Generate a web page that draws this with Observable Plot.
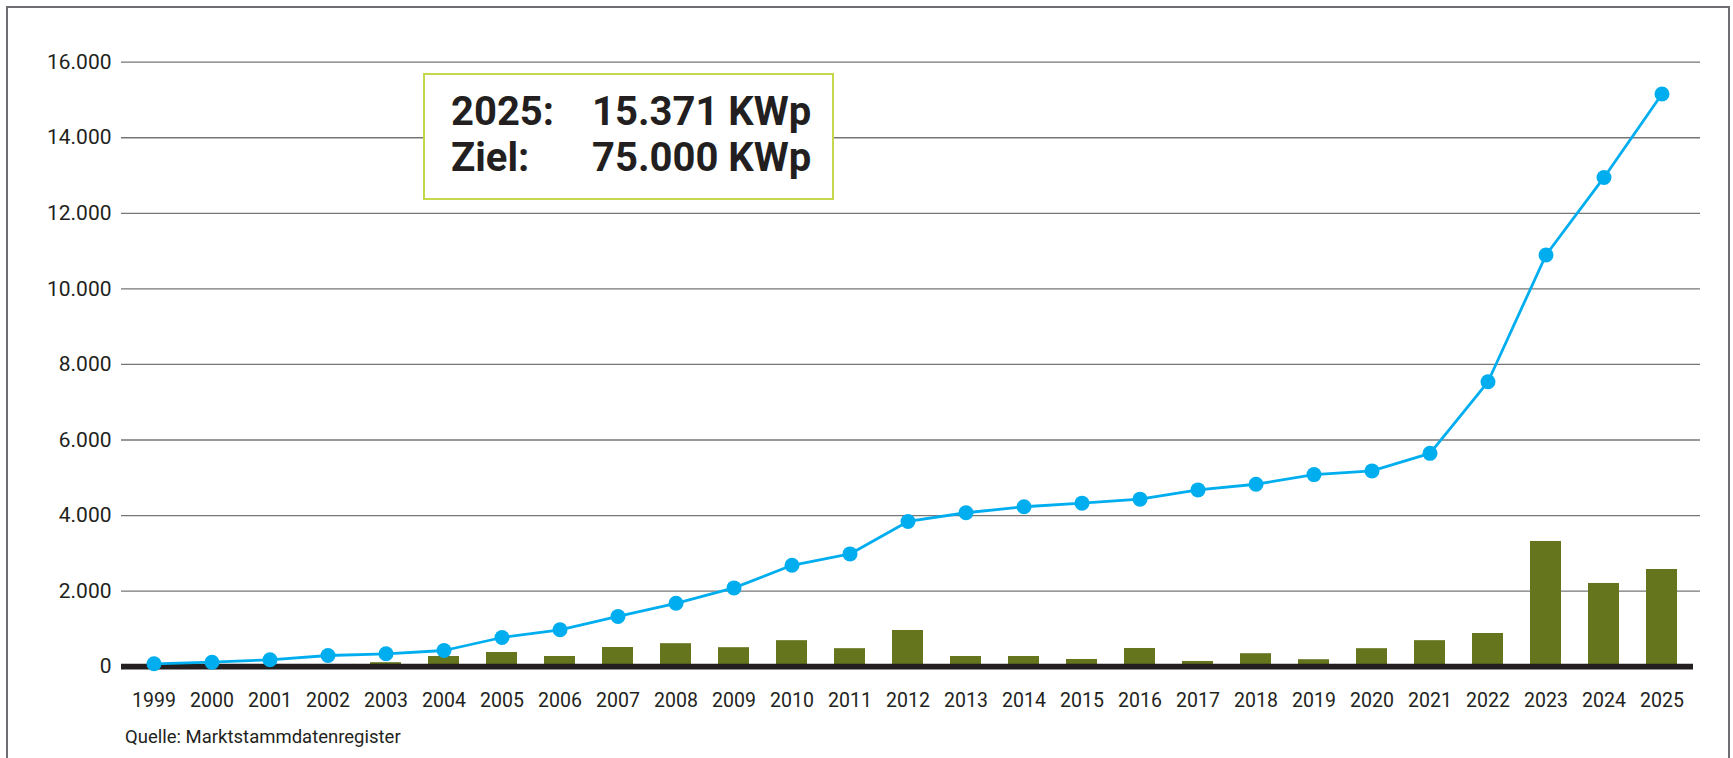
<!DOCTYPE html>
<html>
<head>
<meta charset="utf-8">
<script src="https://cdn.jsdelivr.net/npm/d3@7"></script>
<script src="https://cdn.jsdelivr.net/npm/@observablehq/plot@0.6"></script>
<style>
  html, body { margin: 0; padding: 0; background: #fff; overflow: hidden; }
  body { width: 1733px; height: 758px; position: relative; font-family: Roboto, "Noto Sans", sans-serif; color: #231f20; }
  #frame { position: absolute; left: 6px; top: 6px; width: 1720px; height: 800px; border: 2px solid #6d6e71; border-bottom: none; }
  #chart { position: absolute; left: 0; top: 0; }
  #chart svg { overflow: visible; }
  g[aria-label^="y-axis"] text { font-size: 21px; fill: #231f20; }
  g[aria-label^="x-axis"] text { font-size: 19.5px; fill: #231f20; }
  #box { position: absolute; left: 423px; top: 73px; width: 407px; height: 123px; border: 2px solid #c5d84b; background: #fff; }
  #boxtext { position: absolute; left: 451px; top: 89px; font-family: Roboto, sans-serif; font-weight: 700; font-size: 40px; line-height: 46px; color: #231f20; white-space: nowrap; }
  #boxtext .c1 { display: inline-block; width: 141px; }
  #caption { position: absolute; left: 125px; top: 728px; font-size: 18.5px; line-height: 18px; color: #231f20; }
</style>
</head>
<body>
<div id="frame"></div>
<div id="chart"></div>
<div id="box"></div>
<div id="boxtext"></div>
<div id="caption"></div>
<script>
// ---- data ----
const years = ["1999","2000","2001","2002","2003","2004","2005","2006","2007","2008","2009","2010","2011","2012","2013","2014","2015","2016","2017","2018","2019","2020","2021","2022","2023","2024","2025"];
// cumulative installed capacity (line with dots)
const cumulative = [77,119,183,297,342,429,773,977,1329,1678,2085,2684,2985,3844,4075,4233,4329,4435,4679,4829,5085,5182,5647,7541,10897,12950,15160];
// annual additions (bars)
const annual = [0,0,0,0,106,270,376,270,508,609,503,689,477,958,270,270,191,482,138,344,185,477,689,879,3315,2203,2573];
const yTicks = [0,2000,4000,6000,8000,10000,12000,14000,16000];
const yTickLabels = ["0","2.000","4.000","6.000","8.000","10.000","12.000","14.000","16.000"];
const boxLabels = ["2025:", "Ziel:"];
const boxValues = ["15.371 KWp", "75.000 KWp"];
const sourceText = "Quelle: Marktstammdatenregister";

const data = years.map((y, i) => ({year: y, total: cumulative[i], added: annual[i]}));

const chart = Plot.plot({
  width: 1733,
  height: 758,
  marginTop: 61.7,
  marginBottom: 91.8,
  marginLeft: 121,
  marginRight: 33,
  style: {fontFamily: "Roboto, 'Noto Sans', sans-serif", color: "#231f20", background: "transparent"},
  x: {type: "band", domain: years, range: [121.5, 1693.5], paddingInner: 0.47, paddingOuter: 0.235, align: 0.5,
      tickSize: 0, tickPadding: 26, label: null},
  y: {domain: [0, 16000], ticks: yTicks, tickFormat: d => yTickLabels[yTicks.indexOf(d)],
      tickSize: 0, tickPadding: 10, label: null},
  marks: [
    Plot.ruleY(yTicks.filter(d => d > 0), {stroke: "#767676", strokeWidth: 1.3}),
    Plot.barY(data, {x: "year", y: "added", fill: "#64751e"}),
    Plot.ruleY([0], {stroke: "#231f20", strokeWidth: 5.7, insetRight: 7}),
    Plot.line(data, {x: "year", y: "total", stroke: "#00aeef", strokeWidth: 2.8}),
    Plot.dot(data, {x: "year", y: "total", r: 7.5, fill: "#00aeef"})
  ]
});
document.getElementById("chart").appendChild(chart);

document.getElementById("boxtext").innerHTML = boxLabels.map((l, i) =>
  `<div><span class="c1">${l}</span><span>${boxValues[i]}</span></div>`).join("");
document.getElementById("caption").textContent = sourceText;
</script>
</body>
</html>
